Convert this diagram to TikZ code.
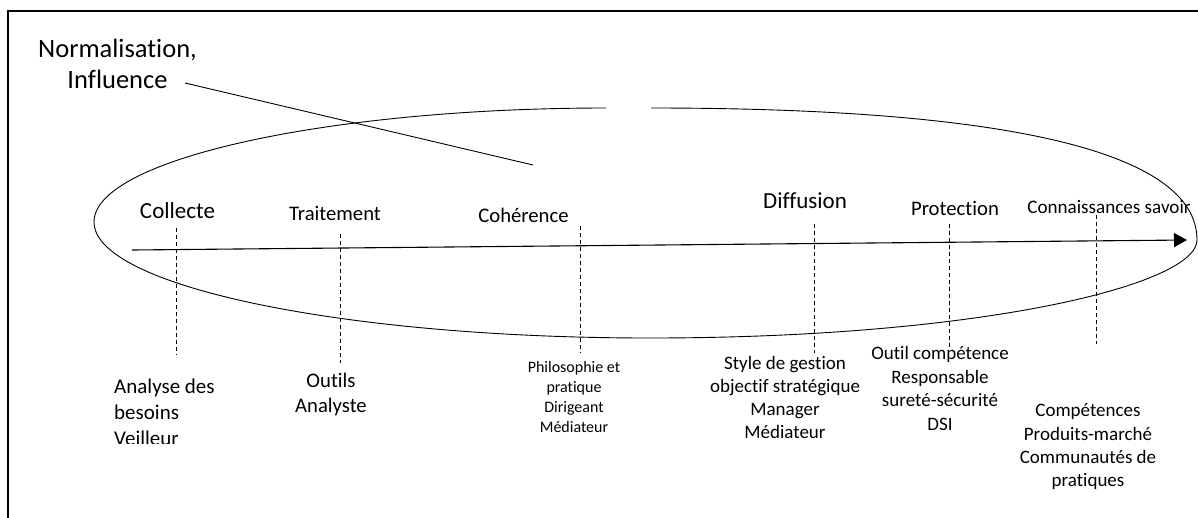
\documentclass[tikz,border=0pt]{standalone}
\usepackage{fontspec}
\setmainfont{Carlito}[Ligatures=CommonOff]
\usetikzlibrary{arrows.meta}

\begin{document}
\begin{tikzpicture}[x=1pt, y=-1pt,
    phase/.style={anchor=base, inner sep=0pt},
    acteur/.style={anchor=base, inner sep=0pt, align=center},
    repere/.style={dash pattern=on 4pt off 3pt, line width=0.8pt},
    trait/.style={line width=0.9pt}]
    \useasboundingbox (0,0) rectangle (1198,517);
    \draw[line width=2pt] (8,11) rectangle (1230,540);

    % boucle
    \draw[trait] (651,108) .. controls (1000,108) and (1197,150) .. (1197,240)
        .. controls (1197,285) and (980,338) .. (650,338)
        .. controls (343,338) and (94,286) .. (94,222)
        .. controls (94,159) and (330,108) .. (606,108);

    % normalisation (base = derniere ligne)
    \node[acteur, font=\fontsize{26.5}{31}\selectfont] (norme) at (117.5,88) {Normalisation,\\Influence};
    \coordinate (norme-a) at (185,83);
    \coordinate (norme-b) at (533,165);
    \draw[trait] (norme-a) -- (norme-b);

    % axe
    \coordinate (debut) at (132,250);
    \coordinate (fin) at (1187,240);
    \draw[line width=1.1pt, -{Triangle[length=13pt,width=14pt]}] (debut) -- (fin);

    % phases
    \node[phase, font=\fontsize{23}{28}\selectfont] (collecte) at (177.5,218) {Collecte};
    \node[phase, font=\fontsize{20.7}{25}\selectfont] (traitement) at (335,220) {Traitement};
    \node[phase, font=\fontsize{20.7}{25}\selectfont] (coherence) at (523.5,222.5) {Cohérence};
    \node[phase, font=\fontsize{23}{28}\selectfont] (diffusion) at (805,208) {Diffusion};
    \node[phase, font=\fontsize{20.7}{25}\selectfont] (protection) at (955,215) {Protection};
    \node[phase, font=\fontsize{19.1}{23}\selectfont] (savoir) at (1109,213) {Connaissances savoir};

    % reperes
    \coordinate (collecte-h) at (176,228);   \coordinate (collecte-b) at (176,355);
    \coordinate (traitement-h) at (340,234); \coordinate (traitement-b) at (340,363);
    \coordinate (coherence-h) at (580,226);  \coordinate (coherence-b) at (580,353);
    \coordinate (diffusion-h) at (814.5,224); \coordinate (diffusion-b) at (814.5,353);
    \coordinate (protection-h) at (949,224); \coordinate (protection-b) at (949,350);
    \coordinate (savoir-h) at (1096,215);    \coordinate (savoir-b) at (1096,344);
    \draw[repere] (collecte-h) -- (collecte-b);
    \draw[repere] (traitement-h) -- (traitement-b);
    \draw[repere] (coherence-h) -- (coherence-b);
    \draw[repere] (diffusion-h) -- (diffusion-b);
    \draw[repere] (protection-h) -- (protection-b);
    \draw[repere] (savoir-h) -- (savoir-b);

    % acteurs (base = derniere ligne)
    \begin{scope}
        \clip (90,360) rectangle (260,443);
        \node[acteur, align=left, anchor=base west, font=\fontsize{21}{26}\selectfont] (besoins) at (114,445) {Analyse des\\besoins\\Veilleur};
    \end{scope}
    \node[acteur, font=\fontsize{20.7}{25}\selectfont] (outils) at (331,412) {Outils\\Analyste};
    \node[acteur, font=\fontsize{16}{20}\selectfont] (philo) at (574,432) {Philosophie et\\pratique\\Dirigeant\\Médiateur};
    \node[acteur, font=\fontsize{19}{22.7}\selectfont] (gestion) at (785,438) {Style de gestion\\objectif stratégique\\Manager\\Médiateur};
    \node[acteur, font=\fontsize{19}{23.4}\selectfont] (surete) at (940,430) {Outil compétence\\Responsable\\sureté-sécurité\\DSI};
    \node[acteur, font=\fontsize{19}{23.3}\selectfont] (competences) at (1088,486.6) {Compétences\\Produits-marché\\Communautés de\\pratiques};
\end{tikzpicture}
\end{document}
